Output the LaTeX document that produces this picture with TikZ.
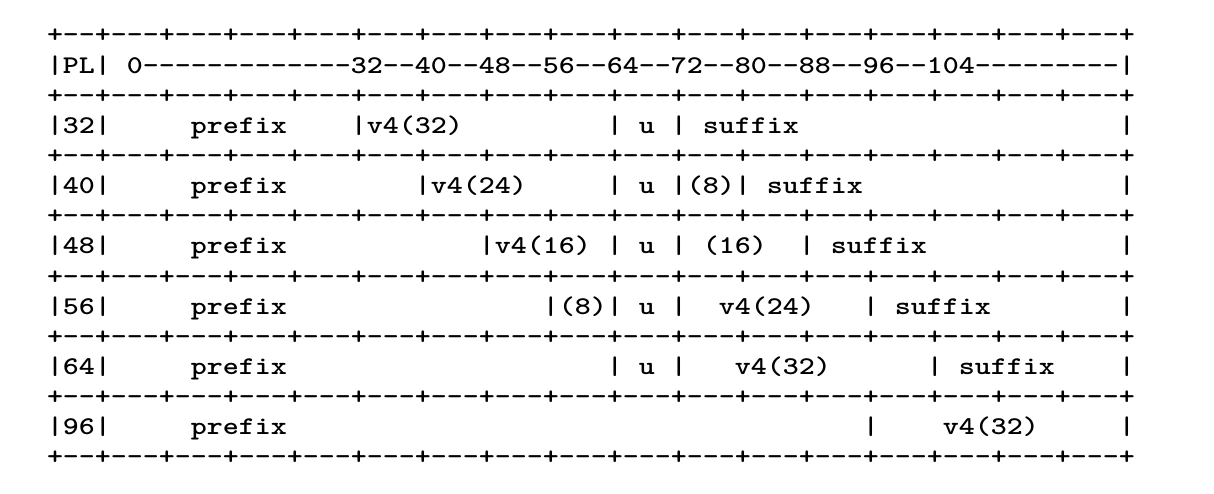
\documentclass[tikz,border=0pt]{standalone}
\usepackage{graphicx}
\newcommand\spc[1]{\kern#1\fontdimen2\font}
\newcommand\asc[1]{\scalebox{1.195}[1]{#1}}
\newcommand\gridline{+--+---+---+---+---+---+---+---+---+---+---+---+---+---+---+---+---+}
\tikzset{
  txt/.style={anchor=base west, inner sep=0pt, outer sep=0pt, text=black,
    font=\ttfamily\bfseries\fontsize{25.5pt}{30pt}\selectfont}
}
\begin{document}
\begin{tikzpicture}[x=1pt,y=-1pt]
\path[fill=white, use as bounding box] (0,0) rectangle (1214,494);
\node[txt] (l0)  at (47,43.0)  {\asc{\gridline}};
\node[txt] (l1)  at (47,73.1)  {\asc{|PL|~0-------------32--40--48--56--64--72--80--88--96--104---------|}};
\node[txt] (l2)  at (47,103.2) {\asc{\gridline}};
\node[txt] (l3)  at (47,133.4) {\asc{|32|\spc{5}prefix\spc{4}|v4(32)\spc{9}|~u~|~suffix\spc{20}|}};
\node[txt] (l4)  at (47,163.5) {\asc{\gridline}};
\node[txt] (l5)  at (47,193.6) {\asc{|40|\spc{5}prefix\spc{8}|v4(24)\spc{5}|~u~|(8)|~suffix\spc{16}|}};
\node[txt] (l6)  at (47,223.7) {\asc{\gridline}};
\node[txt] (l7)  at (47,253.8) {\asc{|48|\spc{5}prefix\spc{12}|v4(16)~|~u~|~(16)~~|~suffix\spc{12}|}};
\node[txt] (l8)  at (47,284.0) {\asc{\gridline}};
\node[txt] (l9)  at (47,314.1) {\asc{|56|\spc{5}prefix\spc{16}|(8)|~u~|~~v4(24)\spc{3}|~suffix\spc{8}|}};
\node[txt] (l10) at (47,344.2) {\asc{\gridline}};
\node[txt] (l11) at (47,374.3) {\asc{|64|\spc{5}prefix\spc{20}|~u~|\spc{3}v4(32)\spc{6}|~suffix\spc{4}|}};
\node[txt] (l12) at (47,404.4) {\asc{\gridline}};
\node[txt] (l13) at (47,434.6) {\asc{|96|\spc{5}prefix\spc{36}|\spc{4}v4(32)\spc{5}|}};
\node[txt] (l14) at (47,464.7) {\asc{\gridline}};
\end{tikzpicture}
\end{document}
